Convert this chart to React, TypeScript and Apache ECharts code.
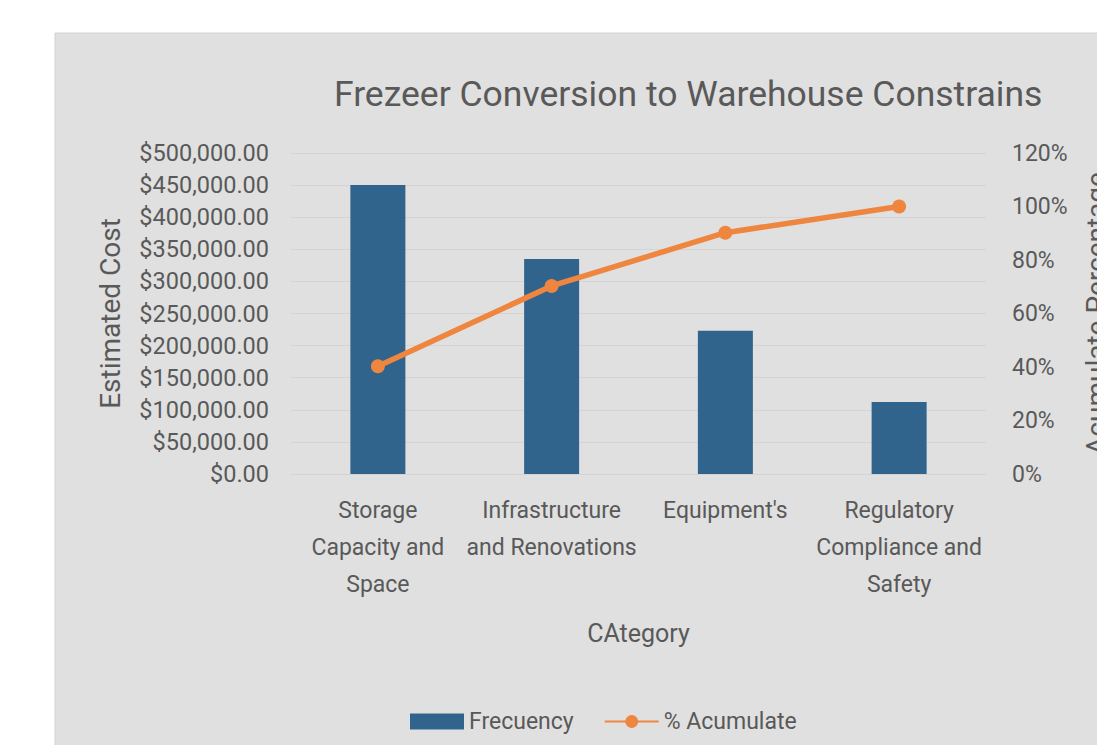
import React, { useEffect, useRef } from "react";
import * as echarts from "echarts";

const categories = [
  "Storage\nCapacity and\nSpace",
  "Infrastructure\nand Renovations",
  "Equipment's",
  "Regulatory\nCompliance and\nSafety",
];
const frequencyValues = [450000, 335000, 223000, 112000];
const accumulateValues = [0.403, 0.703, 0.902, 1.0];

const FONT = "Roboto, 'Liberation Sans', sans-serif";
const TEXT = "#595959";

export default function App() {
  const ref = useRef<HTMLDivElement>(null);
  useEffect(() => {
    if (!ref.current) return;
    const chart = echarts.init(ref.current, undefined, { renderer: "svg" });
    chart.setOption({
      animation: false,
      backgroundColor: "#ffffff",
      textStyle: { fontFamily: FONT, color: TEXT },
      graphic: [
        {
          type: "rect",
          z: -10,
          shape: { x: 55, y: 33, width: 1100, height: 800 },
          style: { fill: "#e0e0e0", stroke: "#d2d2d2", lineWidth: 1 },
        },
      ],
      title: {
        text: "Frezeer Conversion to Warehouse Constrains",
        left: 329,
        top: 71,
        textStyle: { fontFamily: FONT, fontSize: 35.5, fontWeight: "normal", color: TEXT },
      },
      grid: { left: 291, right: 111, top: 153, bottom: 271, containLabel: false, outerBoundsMode: "none" },
      legend: {
        left: 405,
        top: 705,
        itemWidth: 54,
        itemHeight: 16,
        itemGap: 30,
        textStyle: { fontFamily: FONT, fontSize: 23, color: TEXT },
        data: [
          { name: "Frecuency", icon: "rect" },
          { name: "% Acumulate" },
        ],
      },
      xAxis: {
        type: "category",
        data: categories,
        axisLine: { show: true, lineStyle: { color: "#d4d4d4" } },
        axisTick: { show: false },
        axisLabel: {
          interval: 0,
          margin: 18,
          fontFamily: FONT,
          fontSize: 23,
          lineHeight: 37,
          color: TEXT,
          align: "center",
        },
        name: "CAtegory",
        nameLocation: "middle",
        nameGap: 147,
        nameTextStyle: { fontFamily: FONT, fontSize: 25, color: TEXT },
      },
      yAxis: [
        {
          type: "value",
          min: 0,
          max: 500000,
          interval: 50000,
          axisLine: { show: false },
          axisTick: { show: false },
          splitLine: { lineStyle: { color: "#d4d4d4", width: 1 } },
          axisLabel: {
            margin: 22,
            fontFamily: FONT,
            fontSize: 23.5,
            color: TEXT,
            formatter: (v: number) =>
              "$" + v.toLocaleString("en-US", { minimumFractionDigits: 2, maximumFractionDigits: 2 }),
          },
          name: "Estimated Cost",
          nameLocation: "middle",
          nameRotate: 90,
          nameGap: 167,
          nameTextStyle: { fontFamily: FONT, fontSize: 28, color: TEXT },
        },
        {
          type: "value",
          min: 0,
          max: 1.2,
          interval: 0.2,
          position: "right",
          axisLine: { show: false },
          axisTick: { show: false },
          splitLine: { show: false },
          axisLabel: {
            margin: 26,
            fontFamily: FONT,
            fontSize: 23,
            color: TEXT,
            formatter: (v: number) => Math.round(v * 100) + "%",
          },
          name: "Acumulate Percentage",
          nameLocation: "middle",
          nameRotate: 90,
          nameGap: 96,
          nameTextStyle: { fontFamily: FONT, fontSize: 28, color: TEXT },
        },
      ],
      series: [
        {
          name: "Frecuency",
          type: "bar",
          data: frequencyValues,
          barWidth: 55,
          itemStyle: { color: "#31648c" },
          yAxisIndex: 0,
        },
        {
          name: "% Acumulate",
          type: "line",
          yAxisIndex: 1,
          data: accumulateValues,
          symbol: "circle",
          symbolSize: 14,
          lineStyle: { width: 5.5, color: "#ee8640" },
          itemStyle: { color: "#ee8640" },
        },
      ],
    });
    return () => chart.dispose();
  }, []);
  return (
    <div
      ref={ref}
      style={{ position: "fixed", left: 0, top: 0, width: 1097, height: 745 }}
    />
  );
}
